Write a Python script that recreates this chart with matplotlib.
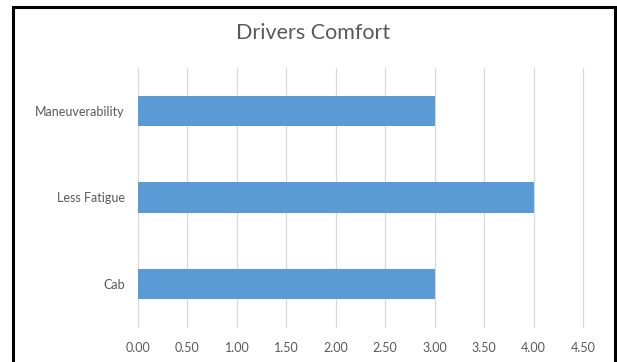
import matplotlib.pyplot as plt
from matplotlib.patches import Rectangle

categories = ["Cab", "Less Fatigue", "Maneuverability"]
scores = [3.0, 4.0, 3.0]
xticks = [0.0, 0.5, 1.0, 1.5, 2.0, 2.5, 3.0, 3.5, 4.0, 4.5]

plt.rcParams['font.family'] = ['Lato', 'DejaVu Sans']

W, H = 617, 362
fig = plt.figure(figsize=(W / 100, H / 100), dpi=100)
ax = fig.add_axes([138 / W, 1 - 327 / H, (583 - 138) / W, (327 - 68) / H])

ax.barh(categories, scores, height=0.35, color="#5b9bd5", zorder=3)

ax.set_xlim(0, 4.5)
ax.set_ylim(-0.5, len(categories) - 0.5)
ax.set_xticks(xticks)
ax.set_xticklabels(["%.2f" % v for v in xticks])
ax.grid(axis="x", color="#d9d9d9", linewidth=0.9, zorder=0)
for gl in ax.get_xgridlines():
    gl.set_clip_on(False)
ax.tick_params(axis="both", length=0, labelsize=9, colors="#595959")
ax.tick_params(axis="x", pad=11)
ax.tick_params(axis="y", pad=9.5)
for s in ax.spines.values():
    s.set_visible(False)

fig.text(313.5 / W, 1 - 33 / H, "Drivers Comfort", ha="center", va="center",
         fontsize=15.5, color="#595959")

# black frame around the chart (open at the bottom edge of the image)
fig.add_artist(Rectangle((12.5 / W, -0.05), (614.5 - 12.5) / W, 1.05 - 6.5 / H,
                         transform=fig.transFigure, fill=False,
                         edgecolor="black", linewidth=2.2))

fig.savefig("out.png", dpi=100)
